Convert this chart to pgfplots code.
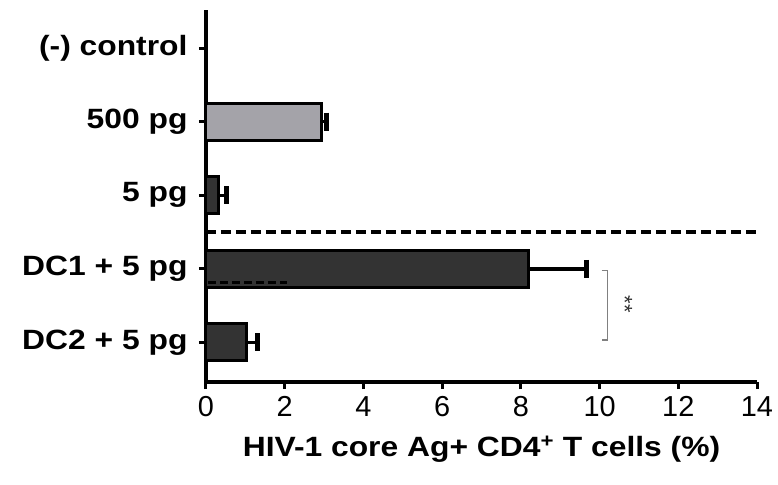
\documentclass[border=0pt]{standalone}
\usepackage{pgfplots}
\pgfplotsset{compat=1.18}
\usepackage{fontspec}
\setmainfont{Liberation Sans}
\newfontfamily\widebold[FakeStretch=1.14]{Liberation Sans Bold}
\definecolor{darkbar}{HTML}{333333}
\definecolor{lightbar}{HTML}{A4A3A9}
\begin{document}
\begin{tikzpicture}
\useasboundingbox (-206bp,-103bp) rectangle (572bp,382bp);
\begin{axis}[
  at={(0,0)}, anchor=south west,
  scale only axis, width=551bp, height=372bp,
  xmin=0, xmax=14, ymin=-0.54, ymax=4.52,
  axis lines=left, axis line style={-, line width=3.2bp},
  xtick={0,2,...,14}, ytick={0,1,2,3,4},
  yticklabels={DC2 + 5 pg, DC1 + 5 pg, 5 pg, 500 pg, (-) control},
  tick align=outside, major tick length=7bp,
  tick style={line width=3bp, black},
  /pgf/number format/assume math mode=true,
  xticklabel style={font=\fontsize{29}{34}\selectfont, yshift=-4bp},
  yticklabel style={font=\widebold\fontsize{28}{32}\selectfont, xshift=-8bp},
  xlabel={HIV-1 core Ag+ CD4\textsuperscript{+} T cells (\%)},
  xlabel style={font=\widebold\fontsize{28}{32}\selectfont, yshift=-12bp},
  clip=false,
]
\addplot[xbar, bar width=37bp, bar shift=0, fill=lightbar, draw=black, line width=3bp,
  error bars/.cd, x dir=plus, x explicit, error mark=|,
  error bar style={line width=3.5bp, black}, error mark options={line width=5bp, mark size=9bp, black}]
  coordinates {(2.93,3) +- (0.12,0)};
\addplot[xbar, bar width=37bp, bar shift=0, fill=darkbar, draw=black, line width=3bp,
  error bars/.cd, x dir=plus, x explicit, error mark=|,
  error bar style={line width=3.5bp, black}, error mark options={line width=5bp, mark size=9bp, black}]
  coordinates {(0.33,2) +- (0.2,0) (8.2,1) +- (1.48,0) (1.02,0) +- (0.28,0)};
\addplot[black, line width=3.4bp, dash pattern=on 10bp off 5bp] coordinates {(0,1.5) (14,1.5)};
\addplot[black, line width=2.8bp, dash pattern=on 8bp off 4bp] coordinates {(0.05,0.81) (2.06,0.81)};
\draw[gray, line width=1.4bp] (axis cs:10.05,0.98) -- (axis cs:10.2,0.98) -- (axis cs:10.2,0.03) -- (axis cs:10.05,0.03);
\node[rotate=-90, font=\fontsize{22}{22}\selectfont, text=darkbar] at (axis cs:10.64,0.52) {**};
\end{axis}
\end{tikzpicture}
\end{document}
